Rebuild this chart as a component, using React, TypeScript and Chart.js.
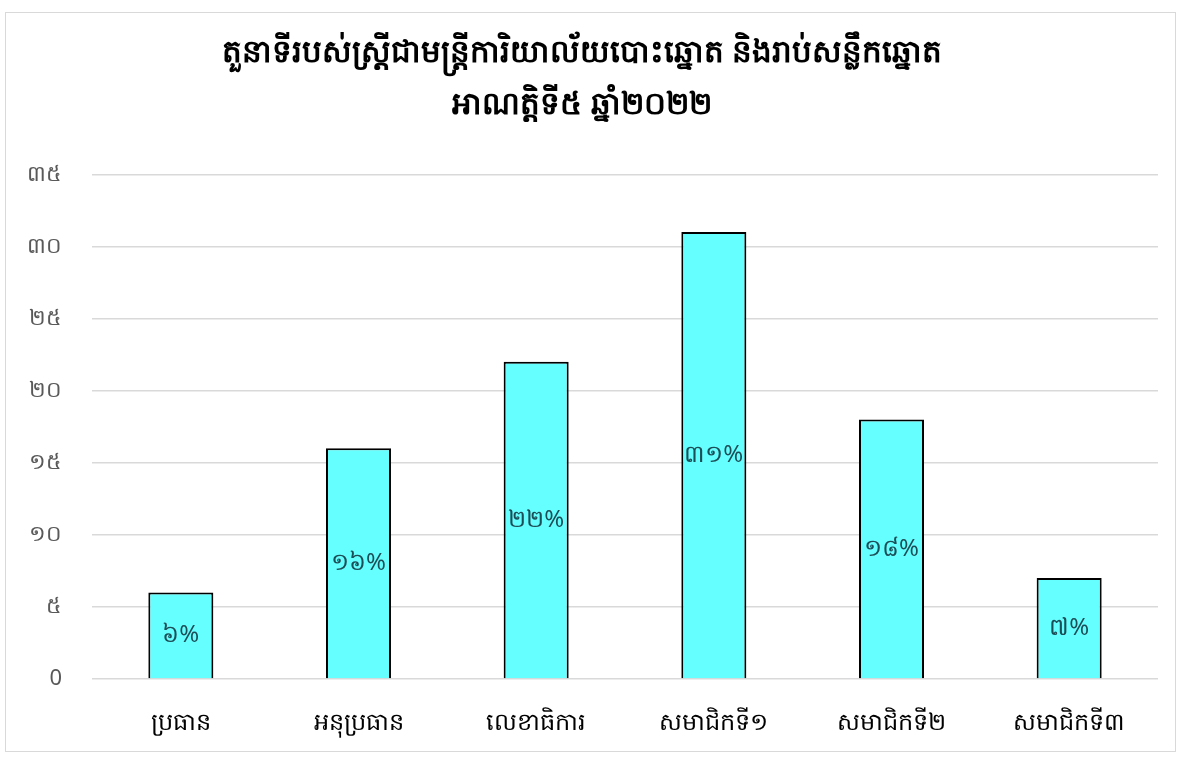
import React, { useEffect, useRef } from "react";
import { Chart, registerables } from "chart.js";

Chart.register(...registerables);

const titleLines = [
  "តួនាទីរបស់ស្ត្រីជាមន្ត្រីការិយាល័យបោះឆ្នោត និងរាប់សន្លឹកឆ្នោត",
  "អាណត្តិទី៥ ឆ្នាំ២០២២",
];
const categories = ["ប្រធាន", "អនុប្រធាន", "លេខាធិការ", "សមាជិកទី១", "សមាជិកទី២", "សមាជិកទី៣"];
const values = [6, 16, 22, 31, 18, 7];
const valueLabels = ["៦%", "១៦%", "២២%", "៣១%", "១៨%", "៧%"];
const yTickLabels: Record<number, string> = {
  0: "0",
  5: "៥",
  10: "១០",
  15: "១៥",
  20: "២០",
  25: "២៥",
  30: "៣០",
  35: "៣៥",
};

const FONT = "'Noto Sans', 'DejaVu Sans', sans-serif";

const insideLabels = {
  id: "insideLabels",
  afterDatasetsDraw(chart: any) {
    const ctx = chart.ctx;
    const meta = chart.getDatasetMeta(0);
    ctx.save();
    ctx.fillStyle = "#1d4e57";
    ctx.font = `24px ${FONT}`;
    ctx.textAlign = "center";
    ctx.textBaseline = "middle";
    meta.data.forEach((bar: any, i: number) => {
      const y = (bar.y + bar.base) / 2;
      ctx.fillText(valueLabels[i], bar.x, y);
    });
    ctx.restore();
  },
};

export default function App() {
  const ref = useRef<HTMLCanvasElement | null>(null);
  useEffect(() => {
    if (!ref.current) return;
    const chart = new Chart(ref.current, {
      type: "bar",
      data: {
        labels: categories,
        datasets: [
          {
            data: values,
            backgroundColor: "#66FFFF",
            borderColor: "#000000",
            borderWidth: 2,
            barPercentage: 0.366,
            categoryPercentage: 1,
          },
        ],
      },
      options: {
        animation: false,
        responsive: true,
        maintainAspectRatio: false,
        layout: { padding: { left: 0, right: 17, top: 0, bottom: 0 } },
        plugins: {
          legend: { display: false },
          tooltip: { enabled: false },
          title: {
            display: true,
            text: titleLines,
            color: "#000000",
            font: { family: FONT, size: 31, lineHeight: 1.65 },
            padding: { top: 15, bottom: 44 },
          },
        },
        scales: {
          x: {
            grid: { display: false },
            border: { display: false },
            ticks: {
              color: "#000000",
              font: { family: FONT, size: 24 },
              padding: 22,
              maxRotation: 0,
            },
            afterFit(scale: any) {
              scale.height = 72;
            },
          },
          y: {
            min: 0,
            max: 35,
            afterFit(scale: any) {
              scale.width = 86;
            },
            grid: { color: "#d9d9d9", lineWidth: 1.5, drawTicks: false },
            border: { display: false },
            ticks: {
              stepSize: 5,
              color: "#595959",
              padding: 30,
              font: { family: FONT, size: 22 },
              callback: (v: any) => yTickLabels[v as number] ?? String(v),
            },
          },
        },
      },
      plugins: [insideLabels],
    });
    return () => chart.destroy();
  }, []);

  return (
    <div
      style={{
        position: "absolute",
        left: 5,
        top: 12,
        width: 1169,
        height: 738,
        border: "1px solid #d9d9d9",
        background: "#ffffff",
      }}
    >
      <canvas ref={ref} />
    </div>
  );
}
